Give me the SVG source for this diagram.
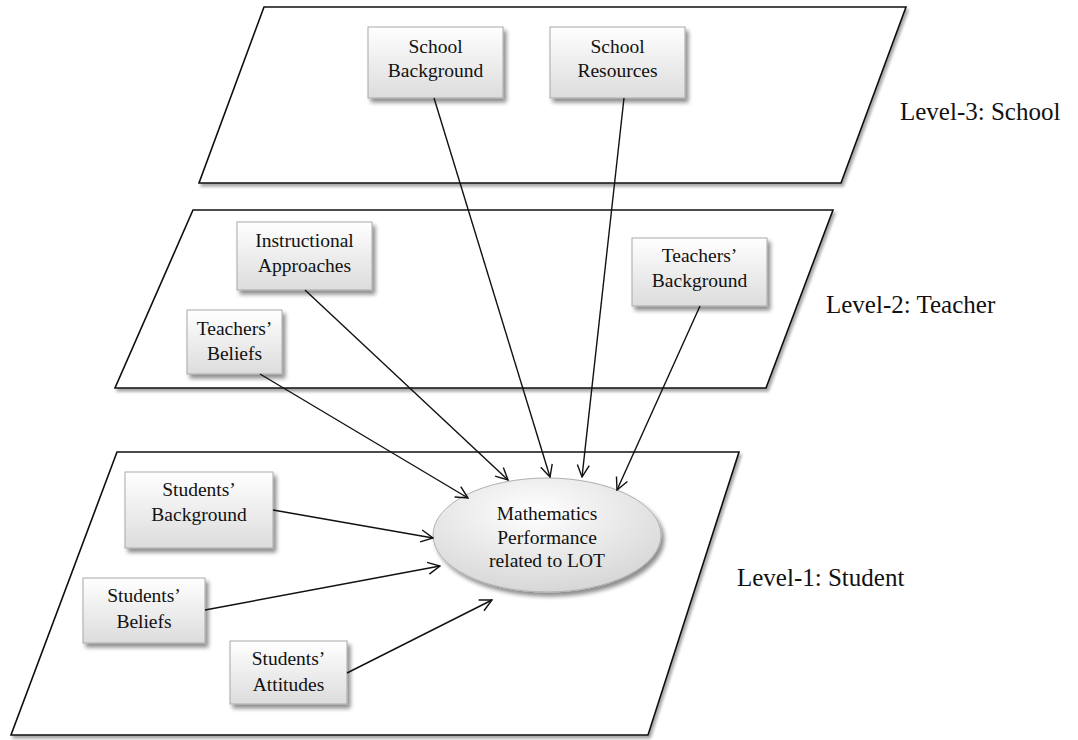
<svg xmlns="http://www.w3.org/2000/svg" width="1078" height="740" viewBox="0 0 1078 740">
<defs>
<linearGradient id="boxg" x1="0" y1="0" x2="0" y2="1">
<stop offset="0" stop-color="#ffffff"/>
<stop offset="1" stop-color="#dcdcdc"/>
</linearGradient>
<radialGradient id="ellg" cx="0.45" cy="0.3" r="0.75">
<stop offset="0" stop-color="#ffffff"/>
<stop offset="1" stop-color="#d4d4d4"/>
</radialGradient>
<filter id="sh" x="-20%" y="-20%" width="150%" height="150%">
<feGaussianBlur in="SourceAlpha" stdDeviation="2"/>
<feOffset dx="3" dy="4" result="b"/>
<feComponentTransfer><feFuncA type="linear" slope="0.45"/></feComponentTransfer>
<feMerge><feMergeNode/><feMergeNode in="SourceGraphic"/></feMerge>
</filter>
<filter id="shp" x="-10%" y="-10%" width="120%" height="130%">
<feGaussianBlur in="SourceAlpha" stdDeviation="1.5"/>
<feOffset dx="2" dy="3" result="b"/>
<feComponentTransfer><feFuncA type="linear" slope="0.35"/></feComponentTransfer>
<feMerge><feMergeNode/><feMergeNode in="SourceGraphic"/></feMerge>
</filter>
<marker id="arr" viewBox="0 0 14 14" refX="13" refY="7" markerWidth="14" markerHeight="14" markerUnits="userSpaceOnUse" orient="auto">
<path d="M1,1 L13,7 L1,13" fill="none" stroke="#111" stroke-width="1.4"/>
</marker>
</defs>
<style>
.plane{fill:#fff;stroke:#111;stroke-width:1.6}
.box{fill:url(#boxg);stroke:#a8a8a8;stroke-width:1}
.t{font-family:"Liberation Serif","Times New Roman",serif;font-size:19.5px;fill:#111;text-anchor:middle}
.lvl{font-family:"Liberation Serif","Times New Roman",serif;font-size:25px;fill:#111}
.con line{stroke:#111;stroke-width:1.4;marker-end:url(#arr)}
</style>
<rect width="1078" height="740" fill="#fff"/>

<g id="level3">
<polygon class="plane" filter="url(#shp)" points="264,7 906,7 841,183 199,183"/>
<text class="lvl" x="900" y="120">Level-3: School</text>
</g>
<g id="level2">
<polygon class="plane" filter="url(#shp)" points="193,210 833,210 766,388 115,388"/>
<text class="lvl" x="826" y="313">Level-2: Teacher</text>
</g>
<g id="level1">
<polygon class="plane" filter="url(#shp)" points="117,452 739,452 648,735 11,735"/>
<text class="lvl" x="737" y="586">Level-1: Student</text>
</g>

<g id="school-background">
<rect class="box" filter="url(#sh)" x="368" y="27" width="135" height="71"/>
<text class="t" x="435.5" y="53">School</text>
<text class="t" x="435.5" y="77">Background</text>
</g>
<g id="school-resources">
<rect class="box" filter="url(#sh)" x="550" y="27" width="135" height="71"/>
<text class="t" x="617.5" y="53">School</text>
<text class="t" x="617.5" y="77">Resources</text>
</g>
<g id="instructional-approaches">
<rect class="box" filter="url(#sh)" x="237" y="222" width="135" height="68"/>
<text class="t" x="304.5" y="247">Instructional</text>
<text class="t" x="304.5" y="272">Approaches</text>
</g>
<g id="teachers-beliefs">
<rect class="box" filter="url(#sh)" x="187" y="310" width="95" height="64"/>
<text class="t" x="234.5" y="335">Teachers’</text>
<text class="t" x="234.5" y="360">Beliefs</text>
</g>
<g id="teachers-background">
<rect class="box" filter="url(#sh)" x="632" y="238" width="135" height="68"/>
<text class="t" x="699.5" y="262">Teachers’</text>
<text class="t" x="699.5" y="287">Background</text>
</g>
<g id="students-background">
<rect class="box" filter="url(#sh)" x="125" y="472" width="148" height="76"/>
<text class="t" x="199" y="496">Students’</text>
<text class="t" x="199" y="521">Background</text>
</g>
<g id="students-beliefs">
<rect class="box" filter="url(#sh)" x="83" y="578" width="122" height="65"/>
<text class="t" x="144" y="602">Students’</text>
<text class="t" x="144" y="628">Beliefs</text>
</g>
<g id="students-attitudes">
<rect class="box" filter="url(#sh)" x="230" y="641" width="117" height="63"/>
<text class="t" x="288.5" y="665">Students’</text>
<text class="t" x="288.5" y="691">Attitudes</text>
</g>
<g id="math-performance">
<ellipse cx="547" cy="535" rx="114" ry="57" fill="url(#ellg)" stroke="#b0b0b0" stroke-width="1" filter="url(#sh)"/>
<text class="t" x="547" y="520">Mathematics</text>
<text class="t" x="547" y="544">Performance</text>
<text class="t" x="547" y="567">related to LOT</text>
</g>

<g id="connectors" class="con">
<line x1="434" y1="98" x2="550" y2="477"/>
<line x1="624" y1="98" x2="582" y2="477"/>
<line x1="305" y1="290" x2="508" y2="480"/>
<line x1="260" y1="374" x2="468" y2="498"/>
<line x1="700" y1="306" x2="617" y2="490"/>
<line x1="273" y1="510" x2="433" y2="538"/>
<line x1="205" y1="610" x2="440" y2="566"/>
<line x1="347" y1="673" x2="492" y2="600"/>
</g>
</svg>
